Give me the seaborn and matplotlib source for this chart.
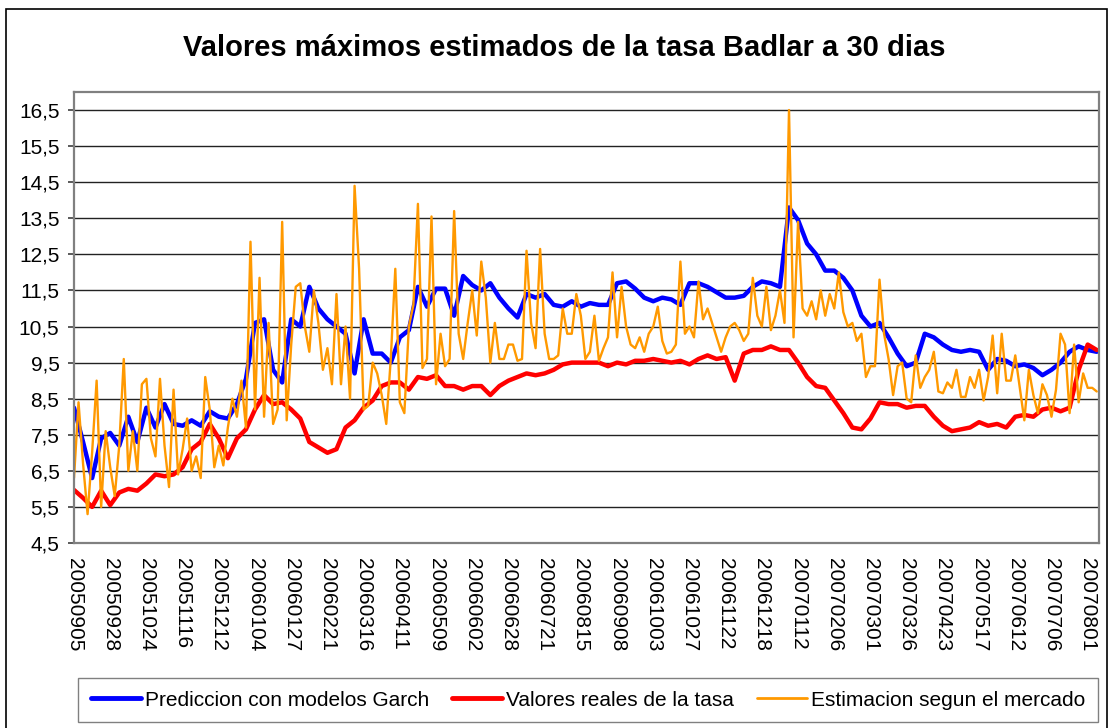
import numpy as np
import pandas as pd
import matplotlib
matplotlib.use('Agg')
import matplotlib.pyplot as plt
from matplotlib.patches import Rectangle
from matplotlib.lines import Line2D
import seaborn as sns

sns.set_theme(style='white')
plt.rcParams['font.family'] = ['Liberation Sans', 'DejaVu Sans']
plt.rcParams['text.color'] = 'black'
plt.rcParams['xtick.color'] = 'black'
plt.rcParams['ytick.color'] = 'black'

# ─────────────────────────────────────────────
# Data, one value per trading-day step
# ─────────────────────────────────────────────
date_labels = ['20050905', '20050928', '20051024', '20051116', '20051212',
               '20060104', '20060127', '20060221', '20060316', '20060411',
               '20060509', '20060602', '20060628', '20060721', '20060815',
               '20060908', '20061003', '20061027', '20061122', '20061218',
               '20070112', '20070206', '20070301', '20070326', '20070423',
               '20070517', '20070612', '20070706', '20070801']
days_per_label = 16
n_days = 453

# blue / red sampled every 4 trading days
garch = [8.25, 7.3, 6.3, 7.4, 7.55, 7.2, 8.0, 7.3, 8.25, 7.7, 8.35, 7.8, 7.75, 7.9,
         7.75, 8.15, 8.0, 7.95, 8.35, 9.05, 10.6, 10.7, 9.3, 8.95, 10.7, 10.5, 11.6,
         11.0, 10.7, 10.5, 10.3, 9.2, 10.7, 9.75, 9.75,
         9.5, 10.2, 10.4, 11.6, 11.05, 11.55, 11.55, 10.8, 11.9, 11.65, 11.5, 11.7,
         11.3, 11.0, 10.75, 11.4, 11.3, 11.4, 11.1, 11.05, 11.2,
         11.05, 11.15, 11.1, 11.1, 11.7, 11.75, 11.55, 11.3, 11.2, 11.3, 11.25, 11.1,
         11.7, 11.7, 11.6, 11.45, 11.3, 11.3, 11.35, 11.6, 11.75,
         11.7, 11.6, 13.8, 13.45, 12.8, 12.5, 12.05, 12.05, 11.85, 11.5, 10.8, 10.5,
         10.6, 10.2, 9.75, 9.4, 9.5, 10.3, 10.2, 10.0, 9.85,
         9.8, 9.85, 9.8, 9.3, 9.6, 9.55, 9.4, 9.45, 9.35, 9.15, 9.3, 9.5, 9.8, 9.95,
         9.85, 9.8]

reales = [5.97, 5.75, 5.5, 5.95, 5.55, 5.9, 6.0, 5.95, 6.15, 6.4, 6.35, 6.4, 6.6, 7.1,
          7.3, 7.8, 7.4, 6.85, 7.4, 7.65, 8.2, 8.6, 8.35, 8.4, 8.2, 7.95, 7.3, 7.15,
          7.0, 7.1, 7.7, 7.9, 8.25, 8.45, 8.85,
          8.95, 8.95, 8.75, 9.1, 9.05, 9.15, 8.85, 8.85, 8.75, 8.85, 8.85, 8.6, 8.85,
          9.0, 9.1, 9.2, 9.15, 9.2, 9.3, 9.45, 9.5,
          9.5, 9.5, 9.5, 9.4, 9.5, 9.45, 9.55, 9.55, 9.6, 9.55, 9.5, 9.55, 9.45, 9.6,
          9.7, 9.6, 9.65, 9.0, 9.75, 9.85, 9.85,
          9.95, 9.85, 9.85, 9.5, 9.1, 8.85, 8.8, 8.45, 8.1, 7.7, 7.65, 7.95, 8.4, 8.35,
          8.35, 8.25, 8.3, 8.3, 8.0, 7.75, 7.6,
          7.65, 7.7, 7.85, 7.75, 7.8, 7.7, 8.0, 8.05, 8.0, 8.2, 8.25, 8.15, 8.25, 9.3,
          10.0, 9.85]

# orange sampled every 2 trading days
mercado = [6.3, 8.4, 6.7, 5.3, 7.0, 9.0, 5.5, 7.6, 6.6, 5.8, 7.2, 9.6, 6.5, 7.6,
           6.5, 8.9, 9.05, 7.4, 6.9, 9.05, 7.2, 6.05, 8.75, 6.4, 7.1, 7.95, 6.5, 6.9,
           6.3, 9.1, 8.2, 6.6, 7.2, 6.65, 7.7, 8.5, 8.0, 9.0, 7.7, 12.85, 8.2, 11.85,
           8.0, 10.6, 7.8, 8.2, 13.4, 7.9, 10.0, 11.6, 11.7, 10.5, 9.8, 11.5, 10.6,
           9.3, 9.9, 8.9, 11.4, 8.9, 10.5, 8.5, 14.4, 12.1, 8.2, 8.3, 9.5, 9.2, 8.6, 7.8,
           9.6, 12.1, 8.4, 8.1, 10.5, 11.1, 13.9, 9.35, 9.6, 13.55, 8.9, 10.3, 9.4,
           9.6, 13.7, 10.3, 9.6, 10.6, 11.5, 10.25, 12.3, 11.3, 9.5, 10.6, 9.6, 9.6,
           10.0, 10.0, 9.55, 9.6, 12.6, 10.6, 9.9, 12.65, 10.3, 9.6, 9.6, 9.7, 11.0,
           10.3, 10.3, 11.4,
           10.8, 9.6, 9.8, 10.8, 9.55, 9.9, 10.2, 12.0, 10.2, 11.6, 10.5, 10.0, 9.9,
           10.2, 9.8, 10.3, 10.5, 11.05, 10.1, 9.75, 9.8, 10.0, 12.3, 10.3, 10.5, 10.2,
           11.75, 10.7, 11.0, 10.6, 10.2, 9.8, 10.2, 10.5, 10.6, 10.4, 10.1, 10.3,
           11.85, 10.8, 10.5, 11.6,
           10.4, 10.8, 11.5, 10.6, 16.5, 10.2, 13.4, 11.0, 10.8, 11.2, 10.7, 11.5,
           10.8, 11.4, 11.0, 12.0, 10.9, 10.5, 10.6, 10.1, 10.3, 9.1, 9.4, 9.4, 11.8,
           10.3, 9.6, 8.6, 9.4, 9.5, 8.5, 8.4, 9.7, 8.8, 9.1, 9.3, 9.8, 8.7, 8.65,
           8.95, 8.8, 9.3,
           8.55, 8.55, 9.1, 8.8, 9.3, 8.45, 9.1, 10.25, 8.65, 10.3, 9.0, 9.0, 9.7, 8.8,
           7.9, 9.3, 8.6, 8.1, 8.9, 8.6, 8.0, 8.75, 10.3, 10.0, 8.1, 10.0, 8.4, 9.2,
           8.8, 8.8, 8.7]

y_ticks = [4.5, 5.5, 6.5, 7.5, 8.5, 9.5, 10.5, 11.5, 12.5, 13.5, 14.5, 15.5, 16.5]

names = ['Prediccion con modelos Garch', 'Valores reales de la tasa',
         'Estimacion segun el mercado']
colors = ['#0000FF', '#FF0000', '#FF9900']
widths = [3.2, 3.2, 1.7]

df_slow = pd.DataFrame({'day': np.arange(len(garch)) * 4,
                        'garch': garch, 'reales': reales})
df_fast = pd.DataFrame({'day': np.arange(len(mercado)) * 2, 'mercado': mercado})

# ─────────────────────────────────────────────
# Figure
# ─────────────────────────────────────────────
W, H = 1110, 728
fig = plt.figure(figsize=(W / 100, H / 100), dpi=100)
fig.patch.set_facecolor('white')
ax = fig.add_axes([74 / W, 1 - 543 / H, (1099 - 74) / W, (543 - 92) / H])

sns.lineplot(data=df_slow, x='day', y='garch', color=colors[0], lw=widths[0], ax=ax)
sns.lineplot(data=df_slow, x='day', y='reales', color=colors[1], lw=widths[1], ax=ax)
sns.lineplot(data=df_fast, x='day', y='mercado', color=colors[2], lw=widths[2], ax=ax)

ax.set_xlim(0, n_days)
ax.set_ylim(4.5, 17.0)
ax.set_yticks(y_ticks)
ax.set_yticklabels([f'{v:.1f}'.replace('.', ',') for v in y_ticks], fontsize=15)
ax.set_xticks(np.arange(len(date_labels)) * days_per_label)
ax.set_xticklabels(date_labels, rotation=-90, fontsize=15, ha='center', va='top')
ax.set_xlabel('')
ax.set_ylabel('')
ax.grid(axis='y', color='#222222', lw=1.0)
ax.set_axisbelow(True)
ax.tick_params(axis='y', direction='out', length=4.5, width=1.2, color='#404040',
               pad=6, left=True)
ax.tick_params(axis='x', length=0, pad=11)
for s in ax.spines.values():
    s.set_color('#808080')
    s.set_linewidth(1.6)

fig.text(564 / W, 1 - 48 / H, 'Valores máximos estimados de la tasa Badlar a 30 dias',
         ha='center', va='center', fontsize=21, fontweight='bold')

handles = [Line2D([], [], color=c, lw=w + 0.3) for c, w in zip(colors, widths)]
fig.legend(handles, names, loc='upper center', bbox_to_anchor=(588 / W, 1 - 678 / H),
           ncol=3, fontsize=15, frameon=True, fancybox=False, edgecolor='#606060',
           handlelength=2.4, handletextpad=0.2, columnspacing=1.1, borderpad=0.6,
           borderaxespad=0)

fig.patches.append(Rectangle((6 / W, -0.02), (1107 - 6) / W, 1.02 - 9 / H,
                             transform=fig.transFigure, fill=False,
                             ec='black', lw=1.2))

plt.savefig('out.png', dpi=100)
plt.close()
